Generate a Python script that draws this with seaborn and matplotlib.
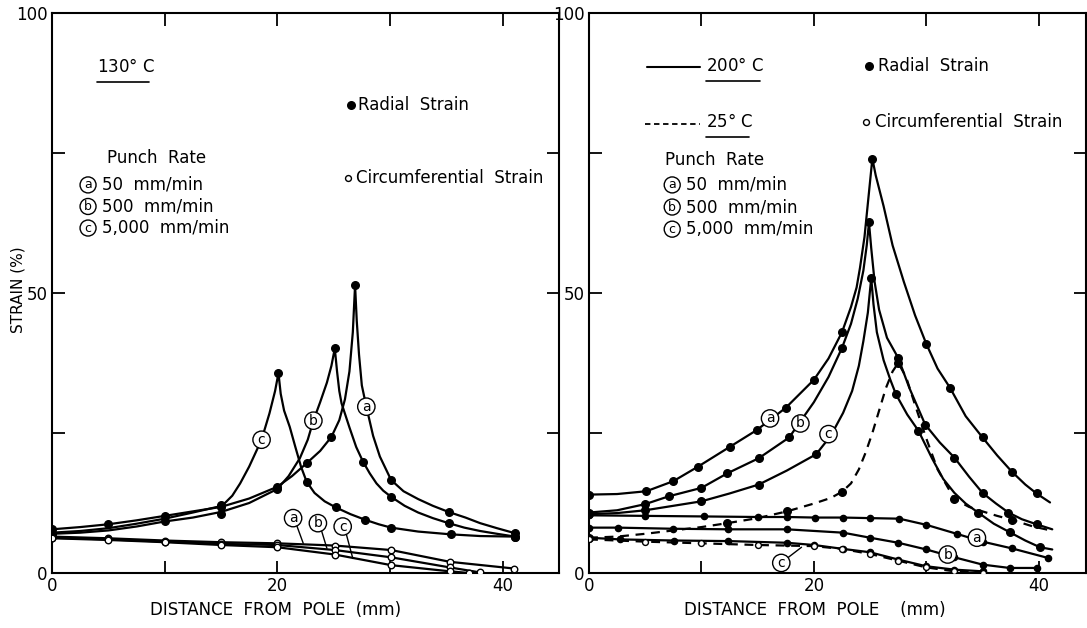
import numpy as np
import matplotlib
matplotlib.use("Agg")
import matplotlib.pyplot as plt
import seaborn as sns

# ---------------- data ----------------
# Left panel, 130 C.  Curve traces (c*) and measured points (p*).
L_rad_a_cx = [0, 2.5, 5, 7.5, 10, 12.5, 15, 17.5, 20, 21.3, 22.6, 23.8, 24.8, 25.5, 26.0, 26.4, 26.7, 26.9,
              27.05, 27.25, 27.5, 27.9, 28.5, 29.1, 30.1, 31.2, 32.5, 33.8, 35.2, 36.7, 38, 39.5, 41.1]
L_rad_a_cy = [7.8, 8.2, 8.7, 9.4, 10.2, 11.0, 11.8, 13.3, 15.4, 17.3, 19.6, 21.8, 24.3, 27.3, 31, 36, 43, 51.4,
              45, 39, 33.5, 29.7, 24.5, 20.8, 16.6, 14.6, 13.2, 12.0, 10.9, 9.9, 8.9, 8.0, 7.1]
L_rad_a_px = [0, 5, 10, 15, 20, 22.6, 24.8, 26.9, 30.1, 35.2, 41.1]
L_rad_a_py = [7.8, 8.7, 10.2, 11.8, 15.4, 19.6, 24.3, 51.4, 16.6, 10.9, 7.1]

L_rad_b_cx = [0, 2.5, 5, 7.5, 10, 12.5, 15, 17.5, 20, 21, 22, 22.7, 23.2, 23.8, 24.4, 24.8, 25.1,
              25.3, 25.5, 25.7, 26.4, 27.0, 27.6, 28.2, 28.8, 29.4, 30.1, 31.3, 32.5, 33.8, 35.2, 36.6, 38, 39.5, 41.1]
L_rad_b_cy = [7.0, 7.2, 7.6, 8.3, 9.2, 9.9, 10.9, 12.5, 15.0, 17.3, 20.5, 23.8, 27.2, 30.5, 34, 37, 40.1,
              36, 32.5, 30.3, 26.0, 22.5, 19.9, 17.8, 16.0, 14.7, 13.6, 12.0, 10.8, 9.8, 8.9, 8.1, 7.5, 7.0, 6.5]
L_rad_b_px = [0, 10, 15, 20, 25.1, 27.6, 30.1, 35.2, 41.1]
L_rad_b_py = [7.0, 9.2, 10.6, 15.0, 40.1, 19.9, 13.6, 8.9, 6.5]

L_rad_c_cx = [0, 2.5, 5, 7.5, 10, 12.5, 15.1, 16, 16.7, 17.5, 18.6, 19.3, 19.8, 20.1,
              20.3, 20.6, 21.1, 21.6, 22.1, 22.6, 23.3, 24.2, 25.2, 26.5, 27.8, 29, 30.1, 32.5, 35.4, 38, 41.1]
L_rad_c_cy = [7.2, 7.5, 8.0, 8.8, 9.7, 10.8, 12.0, 13.8, 16.0, 19.0, 23.8, 28.5, 32.5, 35.7,
              32, 29, 26.1, 22.5, 19, 16.3, 14.3, 12.8, 11.7, 10.5, 9.5, 8.7, 8.1, 7.4, 6.9, 6.6, 6.5]
L_rad_c_px = [0, 15, 20.1, 22.6, 25.2, 27.8, 30.1, 35.4, 41.1]
L_rad_c_py = [7.2, 12.1, 35.7, 16.3, 11.7, 9.5, 8.1, 6.9, 6.5]

L_cir_a_x = [0, 5, 10, 15, 20, 25.1, 30.1, 35.3, 41]
L_cir_a_y = [6.5, 6.2, 5.8, 5.5, 5.3, 4.9, 4.1, 2.0, 0.8]
L_cir_b_x = [0, 5, 10, 15, 20, 25.1, 30.1, 35.3, 38]
L_cir_b_y = [6.3, 6.0, 5.6, 5.2, 5.0, 4.1, 2.8, 1.0, 0.1]
L_cir_c_x = [0, 5, 10, 15, 20, 25.1, 30.1, 35.3, 37]
L_cir_c_y = [6.2, 5.9, 5.5, 5.0, 4.6, 3.3, 1.4, 0.3, 0.0]

# Right panel, 200 C (solid) and 25 C (dashed)
R_rad_a_cx = [0, 2.5, 5.1, 7.5, 9.7, 12.5, 14.9, 17.5, 20.0, 21.3, 22.5, 23.3, 23.8, 24.1, 24.5, 24.8, 25.2,
              25.5, 26.2, 27.0, 28.0, 29.0, 30.0, 31.0, 32.1, 33.5, 35.0, 36.3, 37.6, 38.8, 39.8, 41.0]
R_rad_a_cy = [14.0, 14.1, 14.6, 16.4, 19.0, 22.5, 25.5, 29.5, 34.5, 38.3, 43.0, 47.5, 51, 54.5, 60, 66, 74.0,
              71, 65.5, 58.5, 52, 46, 40.9, 36.5, 33.1, 28, 24.2, 21, 18.1, 15.8, 14.2, 12.6]
R_rad_a_px = [0, 5.1, 7.5, 9.7, 12.5, 14.9, 17.5, 20.0, 22.5, 25.2, 30.0, 32.1, 35.0, 37.6, 39.8]
R_rad_a_py = [14.0, 14.6, 16.4, 19.0, 22.5, 25.5, 29.5, 34.5, 43.0, 74.0, 40.9, 33.1, 24.2, 18.1, 14.2]

R_rad_b_cx = [0, 2.5, 5, 7.1, 10.0, 12.3, 15.1, 17.8, 20, 21.3, 22.5, 23.3, 23.9, 24.4, 24.7, 24.9,
              25.1, 25.4, 25.8, 26.5, 27.5, 28.5, 29.9, 31.2, 32.5, 33.8, 35, 36.2, 37.3, 38.5, 39.8, 41.2]
R_rad_b_cy = [10.8, 11.2, 12.3, 13.7, 15.2, 17.8, 20.5, 24.2, 30.5, 35, 40.2, 44.5, 49, 54, 58.5, 62.6,
              58, 52, 47, 42, 38.4, 33, 26.5, 23.3, 20.6, 17.2, 14.3, 12.4, 10.8, 9.6, 8.7, 7.8]
R_rad_b_px = [0, 5, 7.1, 10.0, 12.3, 15.1, 17.8, 22.5, 24.9, 27.5, 29.9, 32.5, 35, 37.3, 39.8]
R_rad_b_py = [10.8, 12.3, 13.7, 15.2, 17.8, 20.5, 24.2, 40.2, 62.6, 38.4, 26.5, 20.6, 14.3, 10.8, 8.7]

R_rad_c_cx = [0, 2.5, 5, 7.5, 10, 12.5, 15.1, 17.6, 20.2, 21.5, 22.6, 23.4, 24, 24.4, 24.8, 25.1,
              25.3, 25.6, 26.2, 26.8, 27.3, 28.3, 29.3, 30.5, 31.5, 32.5, 33.5, 34.6, 36, 37.4, 38.8, 40.1, 41.2]
R_rad_c_cy = [10.5, 10.7, 11.2, 12.0, 12.8, 14.2, 15.8, 18.3, 21.2, 24.5, 28.6, 32.5, 37, 41.4, 46.5, 52.7,
              48, 43, 38, 34.5, 31.9, 28.3, 25.4, 20.5, 16.8, 14.3, 12.4, 10.8, 8.8, 7.3, 5.8, 4.6, 4.2]
R_rad_c_px = [0, 5, 10, 15.1, 20.2, 25.1, 27.3, 29.3, 34.6, 37.4, 40.1]
R_rad_c_py = [10.5, 11.2, 12.8, 15.8, 21.2, 52.7, 31.9, 25.4, 10.8, 7.3, 4.6]

R_rad_25_cx = [0, 2.5, 5, 7.5, 10, 12.3, 15, 17.6, 20, 21.5, 22.5, 23.3, 24, 24.6, 25.2, 25.8, 26.4, 27.0, 27.5,
               28.2, 29, 30, 31, 32.5, 33.8, 35, 36.3, 37.6, 39.5, 41.3]
R_rad_25_cy = [6.3, 6.5, 7.0, 7.6, 8.2, 8.9, 9.8, 11.0, 12.4, 13.4, 14.5, 16, 18.5, 21.5, 25, 29, 33, 36, 37.5,
               35, 30, 24, 18.5, 13.2, 11.8, 11.0, 10.2, 9.5, 8.3, 7.5]
R_rad_25_px = [0, 12.3, 17.6, 22.5, 27.5, 32.5, 37.6]
R_rad_25_py = [6.3, 8.9, 11.0, 14.5, 37.5, 13.2, 9.5]

R_cir_a_x = [0, 5, 10.2, 15, 17.6, 20.1, 22.6, 25, 27.6, 30, 32.7, 35, 37.6, 40.8]
R_cir_a_y = [10.3, 10.2, 10.1, 10.0, 10.0, 9.9, 9.9, 9.8, 9.7, 8.6, 7.0, 5.6, 4.4, 2.7]
R_cir_b_x = [0, 2.6, 7.5, 12.4, 17.6, 22.6, 25, 27.5, 30, 32.5, 35, 37.4, 39.8]
R_cir_b_y = [8.1, 8.1, 7.9, 7.8, 7.8, 7.2, 6.3, 5.4, 4.2, 2.8, 1.5, 0.9, 0.9]
R_cir_c_x = [0, 2.75, 7.6, 12.4, 17.6, 20, 22.6, 25, 27.5, 30, 32.5, 35]
R_cir_c_y = [6.3, 6.0, 5.8, 5.7, 5.4, 5.0, 4.3, 3.7, 2.4, 1.2, 0.6, 0.3]
R_cir_25_x = [0, 5, 10, 15, 20, 22.5, 25, 27.5, 30, 32.5, 35]
R_cir_25_y = [6.0, 5.6, 5.3, 5.0, 4.8, 4.3, 3.4, 2.2, 1.0, 0.3, 0.0]

x_ticks = [0, 10, 20, 30, 40]
x_ticklabels = ["0", "", "20", "", "40"]
y_ticks = [0, 25, 50, 75, 100]
y_ticklabels = ["0", "", "50", "", "100"]
rate_labels = ["50  mm/min", "500  mm/min", "5,000  mm/min"]
letters = ["a", "b", "c"]

# ---------------- style ----------------
sns.set_theme(style="ticks")
plt.rcParams["font.family"] = ["DejaVu Sans"]
for k in ["text.color", "axes.labelcolor", "xtick.color", "ytick.color", "axes.edgecolor"]:
    plt.rcParams[k] = "black"
FS = 12

W, H = 1087, 628
fig = plt.figure(figsize=(W / 100, H / 100), dpi=100)
fig.patch.set_facecolor("white")
bottom = 1 - 573 / H
height = (573 - 13) / H
ax1 = fig.add_axes([52 / W, bottom, (559 - 52) / W, height])
ax2 = fig.add_axes([589 / W, bottom, (1086 - 589) / W, height])

LW = 1.6


def curve(ax, x, y, ls="-"):
    sns.lineplot(x=x, y=y, ax=ax, sort=False, estimator=None, color="black",
                 lw=LW, linestyle=ls, legend=False)


def dots(ax, x, y, filled=True, s=30):
    sns.scatterplot(x=x, y=y, ax=ax, s=s, color="black" if filled else "white",
                    edgecolor="black", linewidth=1.0, zorder=4, legend=False)


def circled(ax, x, y, t, fs=10):
    ax.text(x, y, t, ha="center", va="center", fontsize=fs, zorder=6, color="black",
            bbox=dict(boxstyle="circle,pad=0.12", fc="white", ec="black", lw=1.0))


def style_axes(ax, xmax):
    ax.set_xlim(0, xmax)
    ax.set_ylim(0, 100)
    ax.set_xticks(x_ticks)
    ax.set_xticklabels(x_ticklabels)
    ax.set_yticks(y_ticks)
    ax.set_yticklabels(y_ticklabels)
    ax.tick_params(direction="in", length=9, width=1.3, top=True, right=True,
                   labelsize=FS, pad=3, colors="black")
    for sp in ax.spines.values():
        sp.set_visible(True)
        sp.set_linewidth(1.5)
        sp.set_color("black")
    ax.set_xlabel("")
    ax.set_ylabel("")


# ---------------- left panel ----------------
for cx, cy, px, py in [(L_rad_a_cx, L_rad_a_cy, L_rad_a_px, L_rad_a_py),
                       (L_rad_b_cx, L_rad_b_cy, L_rad_b_px, L_rad_b_py),
                       (L_rad_c_cx, L_rad_c_cy, L_rad_c_px, L_rad_c_py)]:
    curve(ax1, cx, cy)
    dots(ax1, px, py)
for cx, cy in [(L_cir_a_x, L_cir_a_y), (L_cir_b_x, L_cir_b_y), (L_cir_c_x, L_cir_c_y)]:
    curve(ax1, cx, cy)
    dots(ax1, cx, cy, filled=False, s=22)

style_axes(ax1, 45)

circled(ax1, 27.9, 29.7, "a")
circled(ax1, 23.2, 27.2, "b")
circled(ax1, 18.6, 23.8, "c")
for (lx, ly, tx, ty, t) in [(21.4, 9.8, 22.3, 5.3, "a"), (23.6, 8.9, 24.4, 4.4, "b"), (25.8, 8.3, 26.7, 2.6, "c")]:
    ax1.plot([lx + 0.3, tx], [ly - 1.2, ty], color="black", lw=1.0)
    circled(ax1, lx, ly, t)

ax1.text(4.0, 90.4, "130$\\degree$ C", fontsize=FS, va="center", ha="left")
ax1.plot([4.0, 8.6], [87.6, 87.6], color="black", lw=1.2)
ax1.text(4.9, 74.1, "Punch  Rate", fontsize=FS, va="center", ha="left")
for i in range(3):
    yy = 69.3 - i * 3.85
    circled(ax1, 3.2, yy, letters[i], fs=9)
    ax1.text(4.4, yy, rate_labels[i], fontsize=FS, va="center", ha="left")
dots(ax1, [26.5], [83.6])
ax1.text(27.2, 83.6, "Radial  Strain", fontsize=FS, va="center", ha="left")
dots(ax1, [26.3], [70.5], filled=False, s=18)
ax1.text(27.0, 70.5, "Circumferential  Strain", fontsize=FS, va="center", ha="left")

# ---------------- right panel ----------------
for cx, cy, px, py in [(R_rad_a_cx, R_rad_a_cy, R_rad_a_px, R_rad_a_py),
                       (R_rad_b_cx, R_rad_b_cy, R_rad_b_px, R_rad_b_py),
                       (R_rad_c_cx, R_rad_c_cy, R_rad_c_px, R_rad_c_py)]:
    curve(ax2, cx, cy)
    dots(ax2, px, py)
curve(ax2, R_rad_25_cx, R_rad_25_cy, ls=(0, (4, 3)))
dots(ax2, R_rad_25_px, R_rad_25_py)
for cx, cy in [(R_cir_a_x, R_cir_a_y), (R_cir_b_x, R_cir_b_y), (R_cir_c_x, R_cir_c_y)]:
    curve(ax2, cx, cy)
    dots(ax2, cx, cy, s=20)
curve(ax2, R_cir_25_x, R_cir_25_y, ls=(0, (4, 3)))
dots(ax2, R_cir_25_x, R_cir_25_y, filled=False, s=18)

style_axes(ax2, 44.2)

circled(ax2, 16.1, 27.6, "a")
circled(ax2, 18.8, 26.7, "b")
circled(ax2, 21.3, 24.8, "c")
circled(ax2, 34.5, 6.3, "a")
circled(ax2, 31.9, 3.3, "b")
ax2.plot([17.6, 18.9], [2.6, 4.6], color="black", lw=1.0)
circled(ax2, 17.1, 1.8, "c")

ax2.plot([5.2, 9.9], [90.4, 90.4], color="black", lw=1.5)
ax2.text(10.4, 90.6, "200$\\degree$ C", fontsize=FS, va="center", ha="left")
ax2.plot([10.4, 15.2], [87.8, 87.8], color="black", lw=1.2)
ax2.plot([5.0, 9.9], [80.2, 80.2], color="black", lw=1.3, linestyle=(0, (3, 2)))
ax2.text(10.4, 80.5, "25$\\degree$ C", fontsize=FS, va="center", ha="left")
ax2.plot([10.4, 14.2], [77.8, 77.8], color="black", lw=1.2)
ax2.text(6.8, 73.75, "Punch  Rate", fontsize=FS, va="center", ha="left")
for i in range(3):
    yy = 69.3 - i * 3.95
    circled(ax2, 7.4, yy, letters[i], fs=9)
    ax2.text(8.6, yy, rate_labels[i], fontsize=FS, va="center", ha="left")
dots(ax2, [24.9], [90.5])
ax2.text(25.7, 90.5, "Radial  Strain", fontsize=FS, va="center", ha="left")
dots(ax2, [24.6], [80.5], filled=False, s=18)
ax2.text(25.4, 80.5, "Circumferential  Strain", fontsize=FS, va="center", ha="left")

# axis titles
fig.text(276 / W, 1 - 610 / H, "DISTANCE  FROM  POLE  (mm)", fontsize=FS, ha="center", va="center")
fig.text(815 / W, 1 - 610 / H, "DISTANCE  FROM  POLE    (mm)", fontsize=FS, ha="center", va="center")
fig.text(18 / W, 1 - 290 / H, "STRAIN (%)", fontsize=11, ha="center", va="center", rotation=90)

fig.savefig("out.png", dpi=100, facecolor="white")
